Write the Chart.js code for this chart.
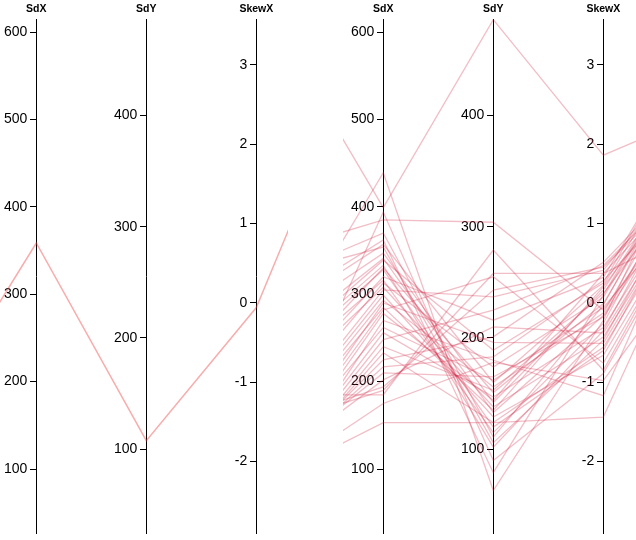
<!DOCTYPE html>
<html>
<head>
<meta charset="utf-8">
<script src="https://cdn.jsdelivr.net/npm/chart.js@4"></script>
<style>
  body { margin: 0; background: #fff; }
  #wrap { position: relative; width: 636px; height: 540px; overflow: hidden; }
  #left { position: absolute; left: 0; top: 0; }
  #right { position: absolute; left: 343px; top: 0; }
</style>
</head>
<body>
<div id="wrap">
  <canvas id="left" width="288" height="540"></canvas>
  <canvas id="right" width="293" height="540"></canvas>
</div>
<script>
// visible axes
const dims = ['SdX', 'SdY', 'SkewX']
const sdxRange = [26.8, 614.9]
const sdyRange = [24.8, 486.6]
const skewRange = [-2.9, 3.576]
const sdxTicks = [100, 200, 300, 400, 500, 600]
const sdyTicks = [100, 200, 300, 400]
const skewTicks = [-2, -1, 0, 1, 2, 3]

// neighbouring axes that sit just off the picture (MeanY on the left, SkewY on the right), domain 0..100
// left panel: one record
const leftMeanY = [21.8]
const leftSdX = [358.6]
const leftSdY = [107.7]
const leftSkewX = [-0.06]
const leftSkewY = [95.5]

// right panel: all records
const rightMeanY = [99.6, 54.5, 34.2, 49.3, 43.6, 42.3, 49.8, 40.0, 36.4, 34.4, 33.4, 29.1, 32.4, 26.8, 30.5, 23.5, 27.5, 20.5, 19.6, 18.6,
  14.3, 18.3, 14.0, 12.3, 9.3, 14.4, 11.1, 10.8, 10.5, 10.9, 12.3, 13.0, 14.0, 13.7, 21.4, 20.9, 26.8, 10.8, 10.7, 15.4]
const rightSdX = [399, 385, 439, 370, 362, 357, 354, 347, 341, 339, 333, 330, 328, 320, 316, 313, 308, 305, 299, 293,
  290, 285, 282, 278, 270, 262, 256, 248, 240, 233, 225, 217, 210, 202, 194, 190, 185, 175, 153, 394]
const rightSdY = [486, 304, 63, 111, 79, 160, 106, 142, 133, 189, 102, 151, 120, 216, 115, 174, 138, 237, 129, 156,
  196, 135, 255, 144, 180, 162, 147, 225, 153, 124, 201, 183, 165, 210, 243, 258, 279, 178, 124, 90]
const rightSkewX = [1.86, -0.09, -0.22, -0.03, 0.10, 0.22, -0.47, 0.16, -0.16, 0.25, -0.35, -0.01, -0.60, 0.32, -0.26, 0.07, -0.43, 0.41, -0.66, -0.13,
  -0.51, 0.20, -0.76, 0.37, -1.17, -0.06, -0.31, 0.47, 0.12, -0.56, 0.51, 0.28, -0.18, -0.38, 0.45, 0.37, -0.85, -0.98, -1.44, -0.89]
const rightSkewY = [82.6, 72.6, 86.8, 83.3, 82.0, 82.6, 76.5, 81.0, 76.8, 86.2, 78.4, 80.4, 74.5, 85.5, 80.4, 81.6, 71.9, 77.1, 70.3, 80.4,
  72.6, 76.4, 70.0, 73.3, 75.5, 69.3, 73.8, 73.5, 74.6, 71.2, 74.8, 71.9, 73.8, 73.3, 72.5, 61.0, 70.6, 58.9, 69.3, 68.8]

const fontFamily = '"Liberation Sans", Arial, sans-serif'
const pxPerUnit = 110   // horizontal distance between two axes
const labelGap = 9      // tick length + padding, label sits left of it
const headerHeight = 19 // room for the axis names above the plot

function norm(v, range) {
  return 100 * (v - range[0]) / (range[1] - range[0])
}

// axis line + tick marks
function yAxis(idx, range, ticks) {
  return {
    type: 'linear',
    axis: 'y',
    position: { x: idx },
    min: range[0],
    max: range[1],
    z: 1,
    afterBuildTicks: s => { s.ticks = ticks.map(v => ({ value: v })) },
    afterFit: s => { s.paddingTop = 0; s.paddingBottom = 0 },
    grid: { drawOnChartArea: false, color: '#000', tickLength: 6 },
    border: { display: true, color: '#000', width: 1 },
    ticks: { display: false }
  }
}

// tick labels only, shifted left of the axis line
function yLabels(idx, range, ticks) {
  return {
    type: 'linear',
    axis: 'y',
    position: { x: idx - labelGap / pxPerUnit },
    min: range[0],
    max: range[1],
    z: 1,
    afterBuildTicks: s => { s.ticks = ticks.map(v => ({ value: v })) },
    afterFit: s => { s.paddingTop = 0; s.paddingBottom = 0 },
    grid: { display: false },
    border: { display: false },
    ticks: { color: '#000', padding: 0, font: { family: fontFamily, size: 14 } }
  }
}

function makeChart(id, xMin, xMax, meanY, sdX, sdY, skewX, skewY, color, width) {
  let datasets = []
  for (let i = 0; i < sdX.length; i++) {
    datasets.push({
      data: [
        { x: -1, y: meanY[i] },
        { x: 0, y: norm(sdX[i], sdxRange) },
        { x: 1, y: norm(sdY[i], sdyRange) },
        { x: 2, y: norm(skewX[i], skewRange) },
        { x: 3, y: skewY[i] }
      ],
      borderColor: color,
      borderWidth: width,
      pointRadius: 0,
      tension: 0,
      fill: false
    })
  }

  new Chart(document.getElementById(id), {
    type: 'line',
    data: { datasets: datasets },
    options: {
      responsive: false,
      animation: false,
      layout: { padding: { top: 0, bottom: 7, left: 0, right: 0 } },
      plugins: { legend: { display: false }, tooltip: { enabled: false } },
      scales: {
        x: {
          type: 'linear',
          position: 'top',
          min: xMin,
          max: xMax,
          grid: { display: false, drawTicks: false },
          border: { display: false },
          afterBuildTicks: s => { s.ticks = dims.map((d, i) => ({ value: i })) },
          afterFit: s => { s.paddingLeft = 0; s.paddingRight = 0; s.height = headerHeight },
          ticks: {
            autoSkip: false,
            maxRotation: 0,
            padding: 3.7,
            color: '#000',
            font: { family: fontFamily, size: 10.5, weight: 'bold' },
            callback: v => dims[v]
          }
        },
        y: { display: false, min: 0, max: 100 },
        y0: yAxis(0, sdxRange, sdxTicks),
        y1: yAxis(1, sdyRange, sdyTicks),
        y2: yAxis(2, skewRange, skewTicks),
        l0: yLabels(0, sdxRange, sdxTicks),
        l1: yLabels(1, sdyRange, sdyTicks),
        l2: yLabels(2, skewRange, skewTicks)
      }
    }
  })
}

makeChart('left', -0.33, 2.288, leftMeanY, leftSdX, leftSdY, leftSkewX, leftSkewY, 'rgba(235, 60, 60, 0.42)', 1.5)
makeChart('right', -0.366, 2.297, rightMeanY, rightSdX, rightSdY, rightSkewX, rightSkewY, 'rgba(210, 40, 70, 0.3)', 1.3)
</script>
</body>
</html>
